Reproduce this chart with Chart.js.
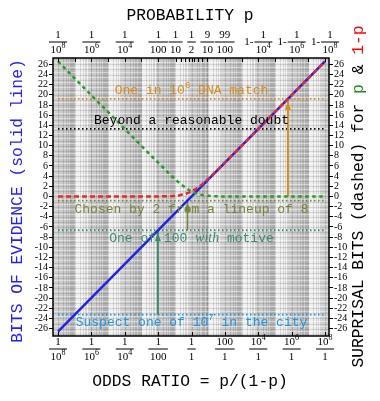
<!DOCTYPE html>
<html><head><meta charset="utf-8">
<script src="https://cdn.jsdelivr.net/npm/chart.js@4/dist/chart.umd.min.js"></script>
<style>html,body{margin:0;padding:0;background:#fff;}canvas{display:block;}</style>
</head><body>
<canvas id="c" width="380" height="401"></canvas>
<script>
// ---------------- DATA ----------------
// odds ratio sample points (x, log axis)
const oddsPts = [1e-8, 1e-4, 1e-2, 0.05, 0.1, 0.2, 0.35, 0.5, 0.7, 1, 1.4, 2, 3, 5, 10, 20, 100, 1e4, 1e8];
// surprisal bits of p (green dashed)
const surprisalP = [26.575, 13.288, 6.658, 4.392, 3.459, 2.585, 1.948, 1.585, 1.280, 1, 0.778, 0.585, 0.415, 0.263, 0.1375, 0.0704, 0.01435, 0.000144, 0];
// surprisal bits of 1-p (red dashed)
const surprisalNotP = [0, 0.000144, 0.01435, 0.0704, 0.1375, 0.263, 0.433, 0.585, 0.766, 1, 1.263, 1.585, 2, 2.585, 3.459, 4.392, 6.658, 13.288, 26.575];
// bits of evidence (blue solid)
const evidenceOdds = [1e-8, 1e8];
const evidenceBits = [-26.575, 26.575];

// reference levels (dotted lines) and their labels
const refLevels = [19.2, 13.29, -0.8, -6.64, -23.25];
const refLabels = ['One in 10^6 DNA match', 'Beyond a reasonable doubt', 'Chosen by 2 from a lineup of 8', 'One of 100 *with* motive', 'Suspect one of 10^7 in the city'];
const refLabelLevels = [20.75, 14.85, -2.5, -8.2, -24.8];
// arrows
const arrowOdds = [6.0e5, 0.574, 0.0096];
const arrowFrom = [0, -6.64, -23.25];
const arrowTo = [19.2, -0.8, -6.64];

// axis ticks / labels
const yTicks = [-26,-24,-22,-20,-18,-16,-14,-12,-10,-8,-6,-4,-2,0,2,4,6,8,10,12,14,16,18,20,22,24,26];
const bottomTickOdds = [1e-8, 1e-6, 1e-4, 1e-2, 1, 1e2, 1e4, 1e6, 1e8];
const bottomNum    = ['1','1','1','1','1','100','10','10','10'];
const bottomNumExp = ['','','','','','','4','6','8'];
const bottomDen    = ['10','10','10','100','1','1','1','1','1'];
const bottomDenExp = ['8','6','4','','','','','',''];
const topTickP  = [1e-8, 1e-6, 1e-4, 0.01, 0.1, 0.5, 0.9, 0.99, 1-1e-4, 1-1e-6, 1-1e-8];
const topPre    = ['','','','','','','','','1-','1-','1-'];
const topNum    = ['1','1','1','1','1','1','9','99','1','1','1'];
const topDen    = ['10','10','10','100','10','2','10','100','10','10','10'];
const topDenExp = ['8','6','4','','','','','','4','6','8'];
const topMinorP = [1e-8,1e-7,1e-6,1e-5,1e-4,1e-3,1e-2,0.1,0.2,0.3,0.4,0.5,0.6,0.7,0.8,0.9,0.99,0.999,1-1e-4,1-1e-5,1-1e-6,1-1e-7,1-1e-8];
const decades = [-9,-8,-7,-6,-5,-4,-3,-2,-1,0,1,2,3,4,5,6,7,8];

// ---------------- STYLE ----------------
const MONO = '"Liberation Mono", monospace';
const SERIF = '"Liberation Serif", serif';
const FR = 11, FRE = 8;
const refColors = ['#d98b1c', '#000000', '#74853a', '#3d8a6c', '#2196e0'];
const arrowColors = ['#d98b1c', '#74853a', '#3d8a6c'];
const X_MIN = Math.pow(10, -8.30), X_MAX = Math.pow(10, 8.24);
const Y_MIN = -27.45, Y_MAX = 27.25;
const toOdds = p => p / (1 - p);

const datasets = [];
datasets.push({ data: oddsPts.map((x,i)=>({x, y: surprisalNotP[i]})), borderColor:'#e82a2a', borderWidth:2.5, borderDash:[5,3], pointRadius:0, cubicInterpolationMode:'monotone', fill:false });
datasets.push({ data: oddsPts.map((x,i)=>({x, y: surprisalP[i]})), borderColor:'#2a9a2a', borderWidth:2.5, borderDash:[3.5,3.5], pointRadius:0, cubicInterpolationMode:'monotone', fill:false });
datasets.push({ data: evidenceOdds.map((x,i)=>({x, y: evidenceBits[i]})), borderColor:'#2222e6', borderWidth:2.5, pointRadius:0, fill:false });
arrowOdds.forEach((x,i)=>{
  datasets.push({ data:[{x, y:arrowFrom[i]},{x, y:arrowTo[i]}], borderColor:arrowColors[i], borderWidth: i===1?1.5:2, pointRadius:0, fill:false });
});
refLevels.forEach((v,i)=>{
  datasets.push({ data:[{x:1e-8, y:v},{x:1e8, y:v}], borderColor:refColors[i], borderWidth:1.8, borderDash:[1.5,2.5], pointRadius:0, fill:false });
});

function drawRich(ctx, str, cx, cy, color, size) {
  const segs = []; let buf = '', italic = false, i = 0;
  const push = (t, sup, it) => { if (t) segs.push({t, sup, it}); };
  while (i < str.length) {
    const ch = str[i];
    if (ch === '^') { push(buf,false,italic); buf=''; push(str[i+1], true, italic); i += 2; continue; }
    if (ch === '*') { push(buf,false,italic); buf=''; italic = !italic; i++; continue; }
    buf += ch; i++;
  }
  push(buf,false,italic);
  const fontOf = s => s.it ? `italic ${size+1}px ${SERIF}` : `${s.sup ? Math.round(size*0.72) : size}px ${MONO}`;
  let total = 0;
  segs.forEach(s => { ctx.font = fontOf(s); s.w = ctx.measureText(s.t).width; total += s.w; });
  let x = cx - total/2;
  ctx.fillStyle = color; ctx.textBaseline = 'middle'; ctx.textAlign = 'left';
  segs.forEach(s => { ctx.font = fontOf(s); ctx.fillText(s.t, x, cy - (s.sup ? size*0.4 : 0)); x += s.w; });
}

function drawWithExp(ctx, t, e, x, y) {
  ctx.font = `${FR}px ${SERIF}`; ctx.fillText(t, x, y);
  if (e) { const w = ctx.measureText(t).width; ctx.font = `${FRE}px ${SERIF}`; ctx.fillText(e, x + w, y - 4); }
}
function widthWithExp(ctx, t, e) {
  ctx.font = `${FR}px ${SERIF}`; let w = ctx.measureText(t).width;
  if (e) { ctx.font = `${FRE}px ${SERIF}`; w += ctx.measureText(e).width; }
  return w;
}
function drawFrac(ctx, cx, barY, pre, num, numExp, den, denExp) {
  ctx.fillStyle = '#000'; ctx.textBaseline = 'middle'; ctx.textAlign = 'left';
  const wN = widthWithExp(ctx, num, numExp), wD = widthWithExp(ctx, den, denExp);
  const wf = Math.max(wN, wD) + 3;
  ctx.font = `${FR}px ${SERIF}`;
  const wP = pre ? ctx.measureText(pre).width + 1 : 0;
  const x0 = cx - (wP + wf)/2;
  if (pre) { ctx.font = `${FR}px ${SERIF}`; ctx.fillText(pre, x0, barY); }
  const fx = x0 + wP, fc = fx + wf/2;
  ctx.fillRect(fx, barY - 0.5, wf, 1);
  drawWithExp(ctx, num, numExp, fc - wN/2, barY - 7);
  drawWithExp(ctx, den, denExp, fc - wD/2, barY + 8);
}

const bgPlugin = {
  id: 'bg',
  beforeDatasetsDraw(chart) {
    const {ctx, chartArea: a, scales} = chart; const xs = scales.x, ys = scales.y;
    ctx.save();
    ctx.beginPath(); ctx.rect(a.left, a.top, a.width, a.height); ctx.clip();
    ctx.fillStyle = '#fff'; ctx.fillRect(a.left, a.top, a.width, a.height);
    decades.forEach(d => {
      const x0 = xs.getPixelForValue(Math.pow(10, d)), x1 = xs.getPixelForValue(Math.pow(10, d+1));
      ctx.fillStyle = (d % 2 === 0) ? 'rgba(0,0,0,0.2)' : 'rgba(0,0,0,0.06)';
      ctx.fillRect(x0, a.top, x1 - x0, a.height);
      for (let m = 1; m <= 9; m++) {
        const px = Math.round(xs.getPixelForValue(m * Math.pow(10, d))) + 0.5;
        ctx.strokeStyle = 'rgba(0,0,0,0.13)'; ctx.lineWidth = 1;
        ctx.beginPath(); ctx.moveTo(px, a.top); ctx.lineTo(px, a.bottom); ctx.stroke();
      }
    });
    for (let v = -27; v <= 27; v++) {
      const py = Math.round(ys.getPixelForValue(v)) + 0.5;
      ctx.strokeStyle = 'rgba(0,0,0,0.10)'; ctx.lineWidth = 1;
      ctx.beginPath(); ctx.moveTo(a.left, py); ctx.lineTo(a.right, py); ctx.stroke();
      const py2 = Math.round(ys.getPixelForValue(v + 0.5)) + 0.5;
      ctx.strokeStyle = 'rgba(255,255,255,0.4)';
      ctx.beginPath(); ctx.moveTo(a.left, py2); ctx.lineTo(a.right, py2); ctx.stroke();
    }
    ctx.restore();
  },
  afterDatasetsDraw(chart) {
    const {ctx, chartArea: a, scales} = chart; const xs = scales.x, ys = scales.y;
    ctx.save();
    // arrowheads
    arrowOdds.forEach((x, i) => {
      const px = xs.getPixelForValue(x), py = ys.getPixelForValue(arrowTo[i]) + 2;
      ctx.fillStyle = arrowColors[i];
      ctx.beginPath(); ctx.moveTo(px, py); ctx.lineTo(px - 3, py + 9); ctx.lineTo(px + 3, py + 9); ctx.closePath(); ctx.fill();
    });
    // labels
    refLabels.forEach((t, i) => {
      drawRich(ctx, t, xs.getPixelForValue(1), ys.getPixelForValue(refLabelLevels[i]), refColors[i], 13);
    });
    ctx.restore();
  },
  afterDraw(chart) {
    const {ctx, chartArea: a, scales} = chart; const xs = scales.x;
    ctx.save();
    // frame
    ctx.strokeStyle = '#000'; ctx.lineWidth = 1.5;
    ctx.strokeRect(a.left, a.top, a.right - a.left, a.bottom - a.top);
    ctx.lineWidth = 1;
    // top ticks
    topMinorP.forEach(p => {
      const px = Math.round(xs.getPixelForValue(toOdds(p))) + 0.5;
      ctx.beginPath(); ctx.moveTo(px, a.top); ctx.lineTo(px, a.top + 4); ctx.stroke();
    });
    // bottom ticks
    bottomTickOdds.forEach(o => {
      const px = Math.round(xs.getPixelForValue(o)) + 0.5;
      ctx.beginPath(); ctx.moveTo(px, a.bottom); ctx.lineTo(px, a.bottom - 4); ctx.stroke();
    });
    // top fraction labels
    topTickP.forEach((p, i) => drawFrac(ctx, xs.getPixelForValue(toOdds(p)), 42, topPre[i], topNum[i], '', topDen[i], topDenExp[i]));
    // bottom fraction labels
    bottomTickOdds.forEach((o, i) => drawFrac(ctx, xs.getPixelForValue(o), 349, '', bottomNum[i], bottomNumExp[i], bottomDen[i], bottomDenExp[i]));
    // titles
    ctx.fillStyle = '#000'; ctx.textBaseline = 'middle'; ctx.textAlign = 'center';
    ctx.font = `16.3px ${MONO}`;
    ctx.fillText('PROBABILITY p', 190, 16);
    ctx.fillText('ODDS RATIO = p/(1-p)', 190, 382);
    ctx.save(); ctx.translate(18, 201); ctx.rotate(-Math.PI/2);
    ctx.fillStyle = '#2020ff'; ctx.fillText('BITS OF EVIDENCE (solid line)', 0, 0); ctx.restore();
    ctx.save(); ctx.translate(359, 196.5); ctx.rotate(-Math.PI/2);
    const segs = [['SURPRISAL BITS (dashed) for ', '#000'], ['p', '#1e8c1e'], [' & ', '#000'], ['1-p', '#ff0000']];
    let tot = 0; segs.forEach(s => tot += ctx.measureText(s[0]).width);
    let x = -tot/2; ctx.textAlign = 'left';
    segs.forEach(s => { ctx.fillStyle = s[1]; ctx.fillText(s[0], x, 0); x += ctx.measureText(s[0]).width; });
    ctx.restore();
    ctx.restore();
  }
};

const yAxisBase = (pos, w) => ({
  type: 'linear', position: pos, min: Y_MIN, max: Y_MAX,
  afterFit: s => { s.width = w; },
  afterBuildTicks: s => { s.ticks = yTicks.map(v => ({value: v})); },
  ticks: { font: { family: '"Liberation Serif", serif', size: 10 }, color: '#000', padding: 1, callback: v => String(v), autoSkip: false },
  grid: { drawOnChartArea: false, tickLength: 4, color: '#000', lineWidth: 1 },
  border: { display: false }
});

new Chart(document.getElementById('c'), {
  type: 'line',
  data: { datasets },
  options: {
    responsive: false, animation: false, parsing: true,
    layout: { padding: 0 },
    plugins: { legend: { display: false }, tooltip: { enabled: false } },
    scales: {
      x: { type: 'logarithmic', position: 'bottom', min: X_MIN, max: X_MAX,
           ticks: { display: false }, grid: { display: false }, border: { display: false },
           afterFit: s => { s.height = 65; } },
      x2: { type: 'logarithmic', position: 'top', min: X_MIN, max: X_MAX,
           ticks: { display: false }, grid: { display: false }, border: { display: false },
           afterFit: s => { s.height = 58; } },
      y: yAxisBase('left', 53),
      y2: yAxisBase('right', 51)
    }
  },
  plugins: [bgPlugin]
});
</script>
</body></html>
